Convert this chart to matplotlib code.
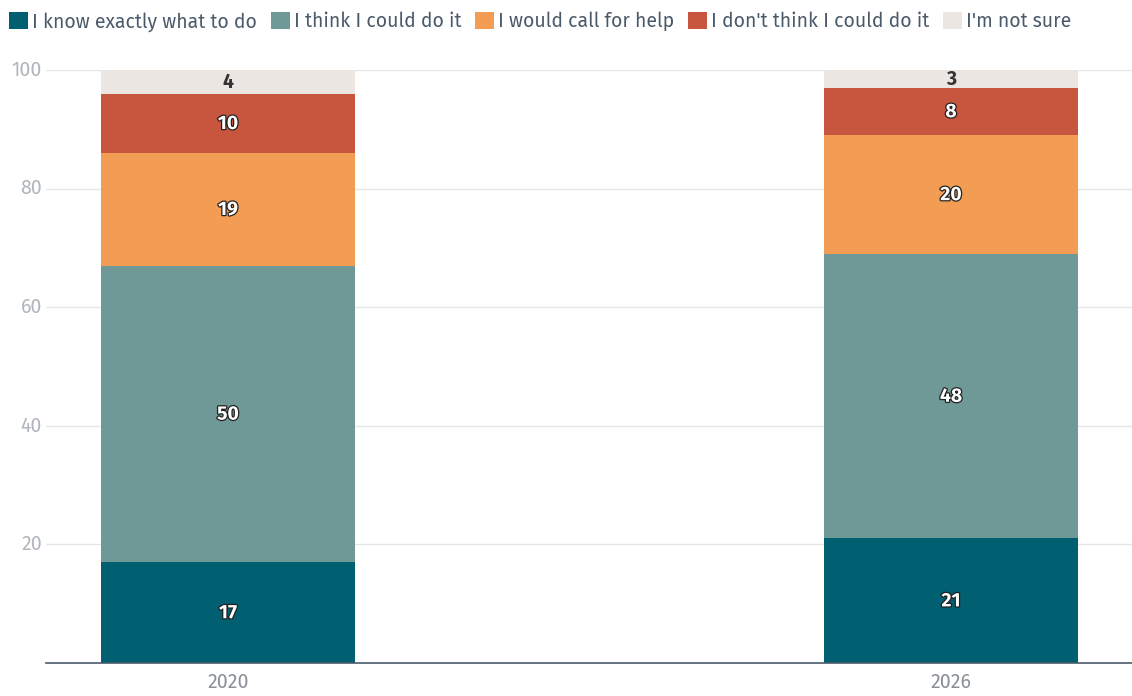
import matplotlib.pyplot as plt
import matplotlib.patheffects as pe
import numpy as np

years = ['2020', '2026']
answers = [
    'I know exactly what to do',
    'I think I could do it',
    'I would call for help',
    "I don't think I could do it",
    "I'm not sure",
]
know_exactly = [17, 21]
think_could = [50, 48]
call_help = [19, 20]
dont_think = [10, 8]
not_sure = [4, 3]

series = [know_exactly, think_could, call_help, dont_think, not_sure]
colors = ['#005f70', '#6f9996', '#f39c54', '#c8553d', '#ebe6e2']
label_dark = [False, False, False, False, True]

plt.rcParams['font.family'] = ['Fira Sans', 'Noto Sans', 'DejaVu Sans']

fig = plt.figure(figsize=(11.32, 6.96), dpi=100)
ax = fig.add_axes([46 / 1132, 33 / 696, 1 - 46 / 1132, (663 - 70) / 696])

x = np.arange(len(years))
bottom = np.zeros(len(years))
for name, vals, col, dark in zip(answers, series, colors, label_dark):
    vals = np.array(vals, dtype=float)
    ax.bar(x, vals, bottom=bottom, width=0.351, color=col,
           label=name, zorder=2)
    for xi, b, v in zip(x, bottom, vals):
        if dark:
            ax.text(xi, b + v / 2, f'{v:g}', ha='center', va='center',
                    fontsize=14, fontweight='bold', color='#333333', zorder=3)
        else:
            ax.text(xi, b + v / 2, f'{v:g}', ha='center', va='center',
                    fontsize=14, fontweight='bold', color='white', zorder=3,
                    path_effects=[pe.withStroke(linewidth=1.8,
                                                foreground='#222222')])
    bottom += vals

ax.set_xlim(-0.2517, 1.2503)
ax.set_ylim(0, 100)
ax.set_yticks([20, 40, 60, 80, 100])
ax.set_xticks(x)
ax.set_xticklabels(years)
ax.grid(axis='y', color='#e6e6e6', linewidth=1, zorder=0)
for s in ['top', 'right', 'left']:
    ax.spines[s].set_visible(False)
ax.spines['bottom'].set_color('#4a5a6a')
ax.spines['bottom'].set_linewidth(1.2)
ax.tick_params(axis='y', length=0, labelsize=14, colors='#b0b6bc', pad=3)
ax.tick_params(axis='x', length=0, labelsize=14, colors='#8a9096', pad=7)
for lbl in ax.get_yticklabels():
    lbl.set_verticalalignment('center')

leg = fig.legend(loc='upper left', bbox_to_anchor=(0.0, 1 - 3 / 696), ncol=5,
                 frameon=False, fontsize=14, handlelength=0.98,
                 handleheight=0.98, handletextpad=0.2, columnspacing=0.72,
                 borderaxespad=0.25, borderpad=0.2)
for t in leg.get_texts():
    t.set_color('#4a5a6a')

fig.savefig('out.png', dpi=100)
